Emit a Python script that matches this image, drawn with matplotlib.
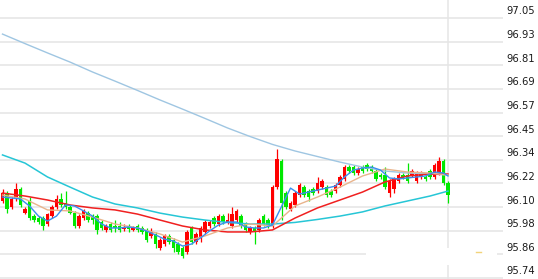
import numpy as np
import matplotlib
matplotlib.use("Agg")
import matplotlib.pyplot as plt
import matplotlib.transforms as mtransforms
from matplotlib.patches import Rectangle

# OHLC candles
opens = [96.13, 96.17, 96.10, 96.14, 96.19, 96.07, 96.13, 96.05, 96.04, 96.04,
         96.01, 96.05, 96.10, 96.14, 96.12, 96.10, 96.07, 96.00, 96.04, 96.07,
         96.05, 96.05, 96.02, 95.98, 96.01, 96.00, 96.00, 95.985, 95.995, 95.98,
         96.00, 95.99, 95.98, 95.95, 95.96, 95.89, 95.91, 95.95, 95.93, 95.91,
         95.89, 95.87, 95.99, 95.92, 95.94, 95.97, 96.00, 96.04, 96.01, 96.05,
         96.02, 96.00, 96.03, 96.05, 96.01, 95.97, 95.99, 95.98, 96.05, 96.03,
         96.00, 96.20, 96.33, 96.17, 96.09, 96.11, 96.16, 96.20, 96.18, 96.19,
         96.18, 96.20, 96.20, 96.18, 96.18, 96.21, 96.24, 96.30, 96.30, 96.27,
         96.30, 96.31, 96.30, 96.28, 96.26, 96.26, 96.17, 96.19, 96.23, 96.26,
         96.26, 96.26, 96.23, 96.25, 96.25, 96.28, 96.25, 96.27, 96.33, 96.22]
highs = [96.19, 96.18, 96.15, 96.22, 96.20, 96.10, 96.15, 96.06, 96.05, 96.05,
         96.07, 96.11, 96.16, 96.17, 96.18, 96.11, 96.08, 96.06, 96.09, 96.08,
         96.06, 96.06, 96.03, 96.01, 96.02, 96.03, 96.02, 96.01, 96.01, 96.00,
         96.01, 96.00, 95.99, 95.99, 95.97, 95.94, 95.96, 95.96, 95.94, 95.92,
         95.90, 95.98, 96.00, 95.97, 96.00, 96.03, 96.03, 96.05, 96.06, 96.06,
         96.07, 96.10, 96.09, 96.06, 96.02, 96.00, 96.00, 96.04, 96.06, 96.04,
         96.21, 96.39, 96.34, 96.18, 96.13, 96.18, 96.22, 96.21, 96.19, 96.20,
         96.25, 96.24, 96.21, 96.19, 96.22, 96.26, 96.31, 96.31, 96.31, 96.30,
         96.31, 96.32, 96.31, 96.29, 96.27, 96.30, 96.24, 96.25, 96.27, 96.27,
         96.32, 96.29, 96.28, 96.28, 96.26, 96.29, 96.32, 96.35, 96.34, 96.23]
lows = [96.12, 96.07, 96.09, 96.13, 96.10, 96.06, 96.03, 96.02, 96.01, 95.98,
        96.00, 96.04, 96.09, 96.10, 96.09, 96.06, 95.99, 95.99, 96.03, 96.02,
        96.01, 95.96, 95.98, 95.97, 95.97, 95.97, 95.97, 95.975, 95.97, 95.975,
        95.97, 95.96, 95.92, 95.94, 95.89, 95.88, 95.90, 95.91, 95.87, 95.86,
        95.84, 95.86, 95.91, 95.91, 95.92, 95.96, 95.99, 96.00, 96.00, 96.01,
        96.01, 95.99, 96.02, 95.99, 95.97, 95.96, 95.91, 95.97, 96.00, 95.99,
        95.99, 96.19, 96.03, 96.09, 96.08, 96.10, 96.15, 96.15, 96.13, 96.16,
        96.17, 96.19, 96.15, 96.15, 96.17, 96.20, 96.23, 96.27, 96.26, 96.26,
        96.27, 96.28, 96.27, 96.23, 96.24, 96.19, 96.15, 96.17, 96.22, 96.24,
        96.22, 96.25, 96.22, 96.24, 96.23, 96.24, 96.24, 96.26, 96.21, 96.12]
closes = [96.17, 96.09, 96.14, 96.19, 96.11, 96.09, 96.04, 96.03, 96.02, 96.00,
          96.06, 96.10, 96.14, 96.11, 96.10, 96.07, 96.00, 96.05, 96.08, 96.03,
          96.03, 95.98, 95.99, 96.00, 95.98, 95.99, 95.98, 95.995, 95.985, 95.995,
          95.98, 95.97, 95.93, 95.97, 95.91, 95.93, 95.95, 95.92, 95.89, 95.87,
          95.85, 95.97, 95.92, 95.96, 95.99, 96.02, 96.02, 96.01, 96.05, 96.02,
          96.03, 96.06, 96.08, 96.00, 95.98, 95.99, 95.97, 96.03, 96.01, 96.00,
          96.20, 96.34, 96.12, 96.10, 96.12, 96.17, 96.21, 96.16, 96.15, 96.17,
          96.22, 96.23, 96.16, 96.16, 96.21, 96.25, 96.30, 96.28, 96.27, 96.29,
          96.28, 96.29, 96.28, 96.24, 96.25, 96.20, 96.23, 96.24, 96.26, 96.25,
          96.23, 96.28, 96.27, 96.27, 96.24, 96.25, 96.31, 96.33, 96.22, 96.16]

# moving averages, sampled every 5 candles
ma_idx = [0, 5, 10, 15, 20, 25, 30, 35, 40, 45, 50, 55, 60, 65, 70, 75, 80, 85, 90, 95, 99]
ma_long = [96.969, 96.921, 96.874, 96.828, 96.778, 96.732, 96.685, 96.637, 96.591, 96.544,
           96.496, 96.453, 96.413, 96.380, 96.352, 96.324, 96.299, 96.279, 96.269, 96.264, 96.259]
ma_cyan = [96.360, 96.319, 96.249, 96.198, 96.148, 96.113, 96.093, 96.067, 96.047, 96.032,
           96.020, 96.012, 96.012, 96.020, 96.035, 96.052, 96.073, 96.103, 96.128, 96.153, 96.178]
ma_red = [96.168, 96.153, 96.133, 96.108, 96.093, 96.083, 96.062, 96.032, 96.002, 95.982,
          95.972, 95.972, 95.982, 96.042, 96.093, 96.133, 96.173, 96.224, 96.254, 96.264, 96.264]
ma_tan = [96.158, 96.138, 96.083, 96.078, 96.047, 96.012, 95.992, 95.962, 95.921, 95.952,
          95.992, 96.012, 96.002, 96.103, 96.148, 96.198, 96.254, 96.289, 96.274, 96.269, 96.259]
# short MA, sampled every 2 candles
ma5_idx = list(range(0, 100, 2)) + [99]
ma5 = [96.148, 96.143, 96.138, 96.103, 96.052, 96.027, 96.052, 96.108, 96.103, 96.078,
       96.052, 96.012, 95.992, 95.992, 95.997, 95.992, 95.977, 95.957, 95.936, 95.926,
       95.901, 95.911, 95.942, 95.977, 96.007, 96.022, 96.022, 95.997, 95.992, 95.992,
       96.007, 96.100, 96.193, 96.163, 96.173, 96.183, 96.193, 96.203, 96.249, 96.284,
       96.294, 96.299, 96.284, 96.244, 96.239, 96.244, 96.249, 96.254, 96.274, 96.269, 96.254]

# price grid and right-hand labels
grid_vals = [95.74 + k * (97.05 - 95.74) / 11 for k in range(12)]
grid_labels = ["95.74", "95.86", "95.98", "96.10", "96.22", "96.34",
               "96.45", "96.57", "96.69", "96.81", "96.93", "97.05"]

W, H = 538, 279
fig = plt.figure(figsize=(W / 100, H / 100), dpi=100)
ax = fig.add_axes([0, 0, 503 / W, 1])
px = (97.05 - 95.74) / 260.0
ax.set_ylim(95.74 - 1 * px, 95.74 + 278 * px)
ax.set_xlim(-2.5 / 4.5, (503 - 2.5) / 4.5)
ax.axis("off")

for v in grid_vals:
    ax.axhline(v, color="#e6e6e6", lw=1.2, zorder=0)
ax.axvline(99, color="#e6e6e6", lw=1.1, zorder=0)

# candles
x = np.arange(len(opens))
o = np.array(opens); c = np.array(closes)
up = c >= o
cols = np.where(up, "#ff0000", "#00e800")
body = np.maximum(np.abs(c - o), 0.004)
ax.vlines(x, lows, highs, colors=cols, lw=0.9, zorder=2)
ax.bar(x, body, bottom=np.minimum(o, c), width=0.8, color=cols, linewidth=0, zorder=3)

# moving average lines
ax.plot(ma_idx, ma_long, color="#9fc6e2", lw=1.0, zorder=4)
ax.plot(ma_idx, ma_cyan, color="#26c6d6", lw=1.1, zorder=4)
ax.plot(ma_idx, ma_red, color="#f02020", lw=1.1, zorder=4)
ax.plot(ma_idx, ma_tan, color="#e9b48c", lw=1.0, zorder=4)
ax.plot(ma5_idx, ma5, color="#3a8ef0", lw=1.0, zorder=5)

# white box near the bottom right with a tiny yellow tick
ax.add_patch(Rectangle((80.8, 95.74 + 13 * px), 29.1, 17 * px,
                       facecolor="white", edgecolor="none", zorder=1))
ax.plot([105.2, 106.3], [95.74 + 26 * px] * 2, color="#f2d37a", lw=1.0, zorder=2)

trans = mtransforms.blended_transform_factory(fig.transFigure, ax.transData)
for v, lab in zip(grid_vals, grid_labels):
    ax.text(506 / W, v + 1.5 * px, lab, transform=trans, ha="left", va="bottom",
            fontsize=7.2, color="#1a1a1a", family="DejaVu Sans", clip_on=False)

fig.savefig("out.png", dpi=100, facecolor="white")
